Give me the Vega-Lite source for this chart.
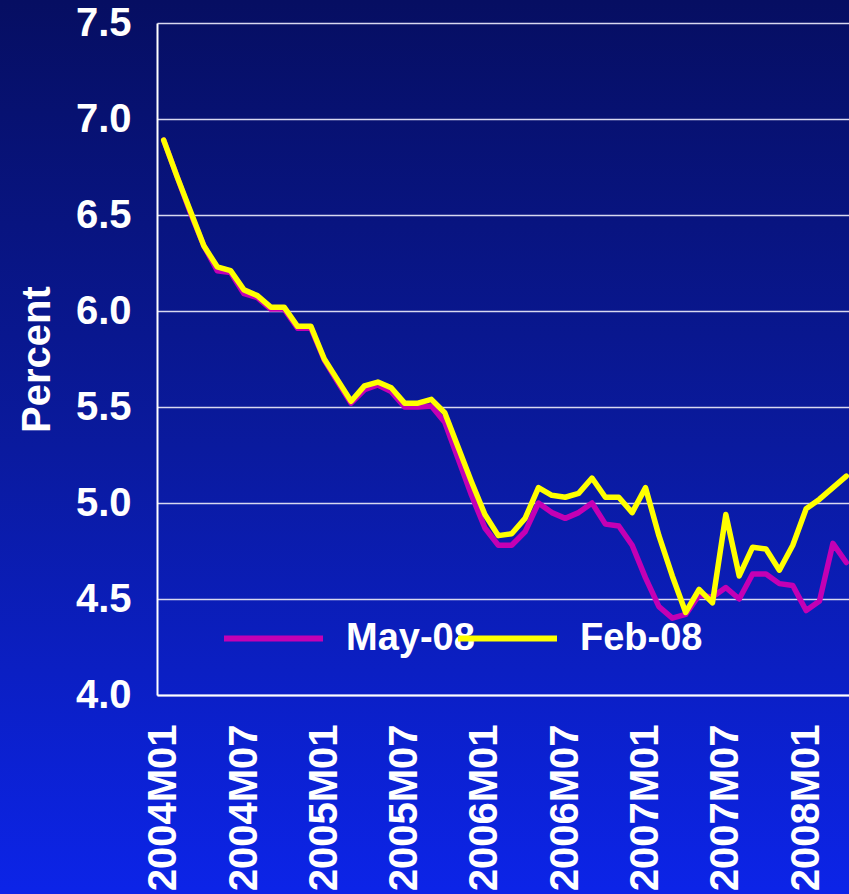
{
  "$schema": "https://vega.github.io/schema/vega-lite/v6.json",
  "width": 849,
  "height": 894,
  "padding": 0,
  "autosize": {"type": "none"},
  "background": "#0a1aa8",
  "config": {
    "view": {
      "stroke": null,
      "fill": {
        "gradient": "linear",
        "x1": 0, "y1": 0, "x2": 0, "y2": 1,
        "stops": [
          {"offset": 0, "color": "#060e62"},
          {"offset": 0.5, "color": "#0a1a9e"},
          {"offset": 1, "color": "#0c24e8"}
        ]
      }
    },
    "font": "Liberation Sans",
    "axis": {
      "labelColor": "white",
      "labelFont": "Liberation Sans",
      "labelFontWeight": "bold",
      "titleColor": "white",
      "titleFont": "Liberation Sans",
      "titleFontWeight": "bold",
      "domainColor": "white",
      "domainWidth": 2,
      "ticks": false
    },
    "legend": {
      "labelColor": "white",
      "labelFont": "Liberation Sans",
      "labelFontWeight": "bold",
      "title": null,
      "orient": "none",
      "direction": "horizontal",
      "padding": 0,
      "symbolType": "stroke",
      "symbolSize": 9801,
      "symbolStrokeWidth": 6,
      "labelFontSize": 38,
      "labelOffset": 20
    }
  },
  "data": {
    "values": [
      {"m": "2004M01", "s": "May-08", "v": 6.89}, {"m": "2004M02", "s": "May-08", "v": 6.70}, {"m": "2004M03", "s": "May-08", "v": 6.51}, {"m": "2004M04", "s": "May-08", "v": 6.34},
      {"m": "2004M05", "s": "May-08", "v": 6.21}, {"m": "2004M06", "s": "May-08", "v": 6.20}, {"m": "2004M07", "s": "May-08", "v": 6.09}, {"m": "2004M08", "s": "May-08", "v": 6.07},
      {"m": "2004M09", "s": "May-08", "v": 6.01}, {"m": "2004M10", "s": "May-08", "v": 6.01}, {"m": "2004M11", "s": "May-08", "v": 5.91}, {"m": "2004M12", "s": "May-08", "v": 5.91},
      {"m": "2005M01", "s": "May-08", "v": 5.745}, {"m": "2005M02", "s": "May-08", "v": 5.63}, {"m": "2005M03", "s": "May-08", "v": 5.52}, {"m": "2005M04", "s": "May-08", "v": 5.59},
      {"m": "2005M05", "s": "May-08", "v": 5.615}, {"m": "2005M06", "s": "May-08", "v": 5.58}, {"m": "2005M07", "s": "May-08", "v": 5.50}, {"m": "2005M08", "s": "May-08", "v": 5.50},
      {"m": "2005M09", "s": "May-08", "v": 5.505}, {"m": "2005M10", "s": "May-08", "v": 5.42}, {"m": "2005M11", "s": "May-08", "v": 5.23}, {"m": "2005M12", "s": "May-08", "v": 5.04},
      {"m": "2006M01", "s": "May-08", "v": 4.87}, {"m": "2006M02", "s": "May-08", "v": 4.78}, {"m": "2006M03", "s": "May-08", "v": 4.78}, {"m": "2006M04", "s": "May-08", "v": 4.85},
      {"m": "2006M05", "s": "May-08", "v": 5.00}, {"m": "2006M06", "s": "May-08", "v": 4.95}, {"m": "2006M07", "s": "May-08", "v": 4.92}, {"m": "2006M08", "s": "May-08", "v": 4.95},
      {"m": "2006M09", "s": "May-08", "v": 5.00}, {"m": "2006M10", "s": "May-08", "v": 4.89}, {"m": "2006M11", "s": "May-08", "v": 4.88}, {"m": "2006M12", "s": "May-08", "v": 4.78},
      {"m": "2007M01", "s": "May-08", "v": 4.61}, {"m": "2007M02", "s": "May-08", "v": 4.46}, {"m": "2007M03", "s": "May-08", "v": 4.40}, {"m": "2007M04", "s": "May-08", "v": 4.42},
      {"m": "2007M05", "s": "May-08", "v": 4.52}, {"m": "2007M06", "s": "May-08", "v": 4.51}, {"m": "2007M07", "s": "May-08", "v": 4.56}, {"m": "2007M08", "s": "May-08", "v": 4.50},
      {"m": "2007M09", "s": "May-08", "v": 4.63}, {"m": "2007M10", "s": "May-08", "v": 4.63}, {"m": "2007M11", "s": "May-08", "v": 4.58}, {"m": "2007M12", "s": "May-08", "v": 4.57},
      {"m": "2008M01", "s": "May-08", "v": 4.44}, {"m": "2008M02", "s": "May-08", "v": 4.49}, {"m": "2008M03", "s": "May-08", "v": 4.79}, {"m": "2008M04", "s": "May-08", "v": 4.69},
      {"m": "2004M01", "s": "Feb-08", "v": 6.89}, {"m": "2004M02", "s": "Feb-08", "v": 6.70}, {"m": "2004M03", "s": "Feb-08", "v": 6.52}, {"m": "2004M04", "s": "Feb-08", "v": 6.34},
      {"m": "2004M05", "s": "Feb-08", "v": 6.23}, {"m": "2004M06", "s": "Feb-08", "v": 6.21}, {"m": "2004M07", "s": "Feb-08", "v": 6.11}, {"m": "2004M08", "s": "Feb-08", "v": 6.08},
      {"m": "2004M09", "s": "Feb-08", "v": 6.02}, {"m": "2004M10", "s": "Feb-08", "v": 6.02}, {"m": "2004M11", "s": "Feb-08", "v": 5.92}, {"m": "2004M12", "s": "Feb-08", "v": 5.92},
      {"m": "2005M01", "s": "Feb-08", "v": 5.75}, {"m": "2005M02", "s": "Feb-08", "v": 5.64}, {"m": "2005M03", "s": "Feb-08", "v": 5.53}, {"m": "2005M04", "s": "Feb-08", "v": 5.61},
      {"m": "2005M05", "s": "Feb-08", "v": 5.63}, {"m": "2005M06", "s": "Feb-08", "v": 5.60}, {"m": "2005M07", "s": "Feb-08", "v": 5.52}, {"m": "2005M08", "s": "Feb-08", "v": 5.52},
      {"m": "2005M09", "s": "Feb-08", "v": 5.54}, {"m": "2005M10", "s": "Feb-08", "v": 5.47}, {"m": "2005M11", "s": "Feb-08", "v": 5.29}, {"m": "2005M12", "s": "Feb-08", "v": 5.11},
      {"m": "2006M01", "s": "Feb-08", "v": 4.94}, {"m": "2006M02", "s": "Feb-08", "v": 4.83}, {"m": "2006M03", "s": "Feb-08", "v": 4.84}, {"m": "2006M04", "s": "Feb-08", "v": 4.92},
      {"m": "2006M05", "s": "Feb-08", "v": 5.08}, {"m": "2006M06", "s": "Feb-08", "v": 5.04}, {"m": "2006M07", "s": "Feb-08", "v": 5.03}, {"m": "2006M08", "s": "Feb-08", "v": 5.05},
      {"m": "2006M09", "s": "Feb-08", "v": 5.13}, {"m": "2006M10", "s": "Feb-08", "v": 5.03}, {"m": "2006M11", "s": "Feb-08", "v": 5.03}, {"m": "2006M12", "s": "Feb-08", "v": 4.95},
      {"m": "2007M01", "s": "Feb-08", "v": 5.08}, {"m": "2007M02", "s": "Feb-08", "v": 4.83}, {"m": "2007M03", "s": "Feb-08", "v": 4.62}, {"m": "2007M04", "s": "Feb-08", "v": 4.43},
      {"m": "2007M05", "s": "Feb-08", "v": 4.55}, {"m": "2007M06", "s": "Feb-08", "v": 4.48}, {"m": "2007M07", "s": "Feb-08", "v": 4.94}, {"m": "2007M08", "s": "Feb-08", "v": 4.62},
      {"m": "2007M09", "s": "Feb-08", "v": 4.77}, {"m": "2007M10", "s": "Feb-08", "v": 4.76}, {"m": "2007M11", "s": "Feb-08", "v": 4.65}, {"m": "2007M12", "s": "Feb-08", "v": 4.78},
      {"m": "2008M01", "s": "Feb-08", "v": 4.97}, {"m": "2008M02", "s": "Feb-08", "v": 5.02}, {"m": "2008M03", "s": "Feb-08", "v": 5.08}, {"m": "2008M04", "s": "Feb-08", "v": 5.14}
    ]
  },
  "encoding": {
    "x": {
      "field": "m",
      "type": "ordinal",
      "sort": null,
      "scale": {"type": "point", "padding": 0.5, "range": [157, 853]},
      "axis": {
        "title": null,
        "orient": "bottom",
        "offset": -199,
        "values": ["2004M01", "2004M07", "2005M01", "2005M07", "2006M01", "2006M07", "2007M01", "2007M07", "2008M01"],
        "labelAngle": 270,
        "labelFontSize": 40,
        "labelPadding": 29,
        "grid": false
      }
    },
    "y": {
      "field": "v",
      "type": "quantitative",
      "scale": {"domain": [4, 7.5], "range": [695, 23], "nice": false, "zero": false},
      "axis": {
        "title": "Percent",
        "orient": "left",
        "offset": -157,
        "values": [4, 4.5, 5, 5.5, 6, 6.5, 7, 7.5],
        "format": ".1f",
        "labelFontSize": 40,
        "labelPadding": 26,
        "titleFontSize": 40,
        "titlePadding": 18,
        "grid": true,
        "gridColor": "#d8d8f0",
        "gridWidth": 1.5
      }
    }
  },
  "layer": [
    {
      "transform": [{"filter": "datum.s === 'May-08'"}],
      "mark": {"type": "line", "strokeWidth": 5.5, "strokeCap": "round", "strokeJoin": "round"},
      "encoding": {
        "color": {
          "field": "s",
          "type": "nominal",
          "scale": {"domain": ["May-08"], "range": ["#c400b4"]},
          "legend": {"legendX": 221, "legendY": 586}
        }
      }
    },
    {
      "transform": [{"filter": "datum.s === 'Feb-08'"}],
      "mark": {"type": "line", "strokeWidth": 5.5, "strokeCap": "round", "strokeJoin": "round"},
      "encoding": {
        "color": {
          "field": "s",
          "type": "nominal",
          "scale": {"domain": ["Feb-08"], "range": ["#ffff00"]},
          "legend": {"legendX": 455, "legendY": 586}
        }
      }
    }
  ],
  "resolve": {"scale": {"color": "independent"}, "legend": {"color": "independent"}}
}
